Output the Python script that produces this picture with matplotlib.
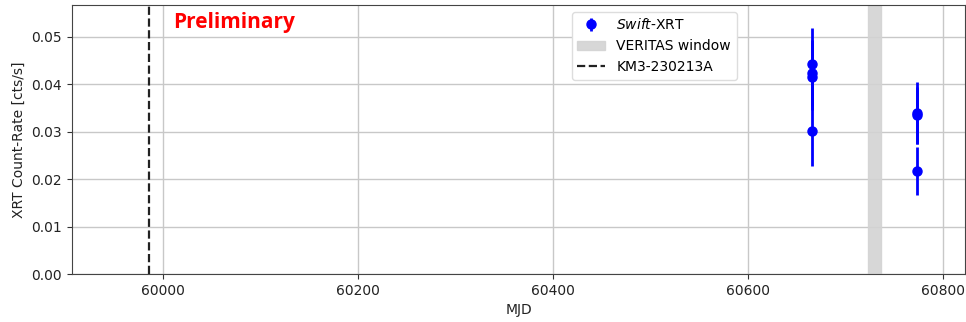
import matplotlib
matplotlib.use("Agg")
import matplotlib.pyplot as plt

# Swift-XRT data
mjd = [60666, 60666, 60666, 60666, 60774, 60774, 60774]
rate = [0.0442, 0.0423, 0.0416, 0.0302, 0.0339, 0.0334, 0.0217]
rate_err = [0.0076, 0.0070, 0.0070, 0.0074, 0.0065, 0.0060, 0.0050]

veritas_window = [60723.5, 60736.5]
km3_mjd = 59986

xlim = [59907, 60823]
ylim = [0.0, 0.0567]
xticks = [60000, 60200, 60400, 60600, 60800]
yticks = [0.00, 0.01, 0.02, 0.03, 0.04, 0.05]

fig = plt.figure(figsize=(9.66, 3.22), dpi=100)
ax = fig.add_axes([0.0745, 0.149, 0.9245, 0.836])

eb = ax.errorbar(mjd, rate, yerr=rate_err, fmt='o', color='blue', ms=6.5,
                 elinewidth=2, label=r'$\it{Swift}$-XRT', zorder=3)
sp = ax.axvspan(veritas_window[0], veritas_window[1], color='lightgray', alpha=0.9,
                label='VERITAS window', zorder=1)
vl = ax.axvline(km3_mjd, color='#222222', ls='--', lw=1.6, label='KM3-230213A', zorder=2)

ax.set_xlim(xlim)
ax.set_ylim(ylim)
ax.set_xticks(xticks)
ax.set_yticks(yticks)
ax.set_yticklabels([f"{v:.2f}" for v in yticks])
ax.tick_params(labelsize=10, colors='#333333', labelcolor='#222222')
ax.grid(True, color='#c8c8c8', lw=1.0)
ax.set_axisbelow(True)
for s in ax.spines.values():
    s.set_color('#444444')
ax.set_xlabel('MJD', fontsize=10, color='#222222')
ax.set_ylabel('XRT Count-Rate [cts/s]', fontsize=10, color='#222222')

ax.legend(handles=[eb, sp, vl], loc='upper left', bbox_to_anchor=(0.552, 1.0),
          fontsize=10, framealpha=1.0, edgecolor='#dddddd')

ax.text(0.113, 0.935, 'Preliminary', transform=ax.transAxes, color='red',
        fontsize=15, fontweight='bold', ha='left', va='center', family='Open Sans')

fig.savefig('out.png', dpi=100)
